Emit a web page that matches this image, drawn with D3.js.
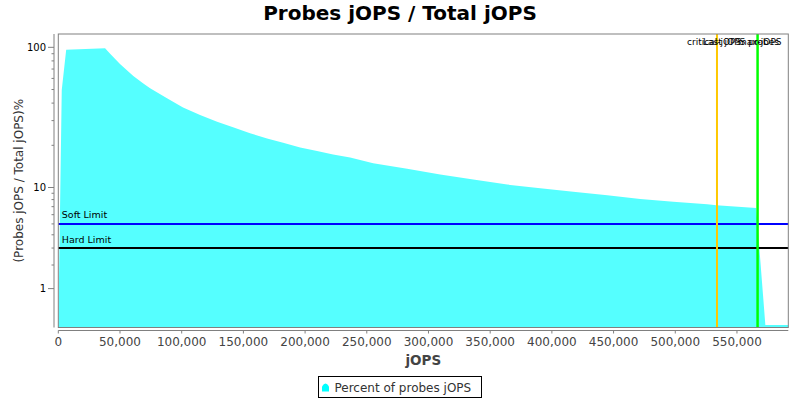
<!DOCTYPE html>
<html>
<head>
<meta charset="utf-8">
<script src="https://cdn.jsdelivr.net/npm/d3@7"></script>
<style>
  body { margin: 0; background: white; }
  text { font-family: "DejaVu Sans", sans-serif; }
</style>
</head>
<body>
<div class="draw"></div>
<script>
// values
const jops = [0, 2800, 6400, 37900, 42000, 50000, 60800, 68900, 74400, 88100, 101100, 114900,
  128700, 141600, 155400, 169200, 182200, 196000, 209700, 222700, 236500, 255200, 282700,
  309500, 336300, 363800, 390600, 417300, 444900, 471600, 498400, 525900, 533200, 565600,
  573000, 591600]
const percent = [0, 49.6, 96.1, 98.4, 90.0, 76.0, 62.5, 55.2, 51.0, 43.3, 37.2, 32.9,
  29.5, 26.9, 24.4, 22.4, 20.9, 19.3, 18.2, 17.2, 16.4, 14.9, 13.6,
  12.4, 11.4, 10.5, 9.86, 9.26, 8.67, 8.09, 7.69, 7.32, 7.18, 6.82,
  0.05, 0.05]

const xTicks = [0, 50000, 100000, 150000, 200000, 250000, 300000, 350000, 400000, 450000, 500000, 550000]
const yMajor = [1, 10, 100]
const yMinor = [2, 3, 4, 5, 6, 7, 8, 9, 20, 30, 40, 50, 60, 70, 80, 90]

const limitNames = ["Soft Limit", "Hard Limit"]
const limitValues = [5, 3]
const limitColors = ["#0000ff", "#000000"]

const markerNames = ["critical-jOPS", "Last jOPS probes", "max-jOPS"]
const markerValues = [533800, 566700, 566700]
const markerColors = ["#ffc800", "#00ff00", "#00ff00"]
const markerLabelX = [687, 703, 738]

const width = 800
const height = 400
const plot = {left: 58.3, right: 788.3, top: 34, bottom: 327.5}

let svg = d3.select("div.draw")
    .append("svg")
    .attr("width", width)
    .attr("height", height)

// jfreechart style log axis: values under 10 are squeezed so 0 is allowed
function adjLog(v){
  if(v < 10){
    v = v + (10 - v) / 10
  }
  return Math.log10(v)
}

let x = d3.scaleLinear().domain([0, 591600]).range([plot.left, plot.right])
let yLin = d3.scaleLinear().domain([0, 2.095]).range([plot.bottom + 0.2, plot.top])
let y = (v) => yLin(adjLog(v))

// title
svg.append("text")
    .attr("x", 400)
    .attr("y", 19.5)
    .attr("text-anchor", "middle")
    .style("font-size", "20px")
    .style("font-weight", "bold")
    .text("Probes jOPS / Total jOPS")

// area
let data = jops.map((d, i) => [d, percent[i]])
let area = d3.area()
    .x((d) => x(d[0]))
    .y0(y(0))
    .y1((d) => y(d[1]))

svg.append("path")
    .datum(data)
    .attr("d", area)
    .style("fill", "#55ffff")

// limit lines
limitValues.forEach(function(v, i){
  svg.append("line")
      .attr("x1", plot.left)
      .attr("x2", plot.right)
      .attr("y1", y(v))
      .attr("y2", y(v))
      .style("stroke", limitColors[i])
      .style("stroke-width", 2)
  svg.append("text")
      .attr("x", plot.left + 3.5)
      .attr("y", y(v) - 5.5)
      .style("font-size", "9.5px")
      .text(limitNames[i])
})

// marker lines
markerValues.forEach(function(v, i){
  svg.append("line")
      .attr("x1", x(v))
      .attr("x2", x(v))
      .attr("y1", plot.top)
      .attr("y2", plot.bottom)
      .style("stroke", markerColors[i])
      .style("stroke-width", 2)
})
markerNames.forEach(function(name, i){
  svg.append("text")
      .attr("x", markerLabelX[i])
      .attr("y", 44.5)
      .style("font-size", "9px")
      .text(name)
})

// plot frame
svg.append("rect")
    .attr("x", plot.left)
    .attr("y", plot.top)
    .attr("width", plot.right - plot.left)
    .attr("height", plot.bottom - plot.top)
    .style("fill", "none")
    .style("stroke", "#808080")
    .style("stroke-width", 1)

// y axis
let axisX = 54
svg.append("line")
    .attr("x1", axisX).attr("x2", axisX)
    .attr("y1", plot.top).attr("y2", plot.bottom)
    .style("stroke", "#808080")
svg.selectAll("line.ymajor")
    .data(yMajor)
    .enter()
    .append("line")
    .attr("class", "ymajor")
    .attr("x1", axisX - 6).attr("x2", axisX)
    .attr("y1", (d) => y(d)).attr("y2", (d) => y(d))
    .style("stroke", "#808080")
svg.selectAll("line.yminor")
    .data(yMinor)
    .enter()
    .append("line")
    .attr("class", "yminor")
    .attr("x1", axisX - 2.5).attr("x2", axisX)
    .attr("y1", (d) => y(d)).attr("y2", (d) => y(d))
    .style("stroke", "#808080")
svg.selectAll("text.ytick")
    .data(yMajor)
    .enter()
    .append("text")
    .attr("class", "ytick")
    .attr("x", axisX - 8)
    .attr("y", (d) => y(d) + 3.5)
    .attr("text-anchor", "end")
    .style("font-size", "10px")
    .text((d) => d)

svg.append("text")
    .attr("transform", "translate(23," + ((plot.top + plot.bottom) / 2) + ") rotate(-90)")
    .attr("text-anchor", "middle")
    .style("font-size", "12px")
    .style("fill", "#333")
    .text("(Probes jOPS / Total jOPS)%")

// x axis
let axisY = 330.5
svg.append("line")
    .attr("x1", plot.left).attr("x2", plot.right)
    .attr("y1", axisY).attr("y2", axisY)
    .style("stroke", "#808080")
svg.selectAll("line.xtick")
    .data(xTicks)
    .enter()
    .append("line")
    .attr("class", "xtick")
    .attr("x1", (d) => x(d)).attr("x2", (d) => x(d))
    .attr("y1", axisY).attr("y2", axisY + 3)
    .style("stroke", "#808080")
svg.selectAll("text.xtick")
    .data(xTicks)
    .enter()
    .append("text")
    .attr("class", "xtick")
    .attr("x", (d) => x(d))
    .attr("y", 346)
    .attr("text-anchor", "middle")
    .style("font-size", "12px")
    .style("fill", "#444")
    .text((d) => d3.format(",")(d))

svg.append("text")
    .attr("x", (plot.left + plot.right) / 2)
    .attr("y", 365)
    .attr("text-anchor", "middle")
    .style("font-size", "13.5px")
    .style("font-weight", "bold")
    .style("fill", "#444")
    .text("jOPS")

// legend
let legend = svg.append("g").attr("transform", "translate(318.5,376.5)")
legend.append("rect")
    .attr("width", 163)
    .attr("height", 21)
    .style("fill", "white")
    .style("stroke", "black")
legend.append("path")
    .attr("d", "M3.5,15 L3.5,10 Q7,4 10.5,10 L10.5,15 Z")
    .style("fill", "#00ffff")
legend.append("text")
    .attr("x", 16)
    .attr("y", 15.5)
    .style("font-size", "12px")
    .style("fill", "#333")
    .text("Percent of probes jOPS")
</script>
</body>
</html>
